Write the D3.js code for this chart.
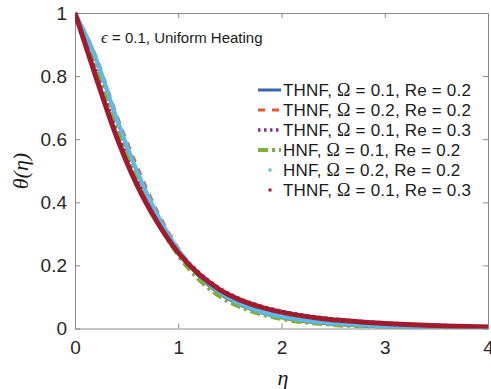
<!DOCTYPE html>
<html>
<head>
<meta charset="utf-8">
<script src="https://cdn.jsdelivr.net/npm/d3@7"></script>
<style>
  body { margin: 0; background: #fff; }
  svg { display: block; font-family: "Liberation Sans", Arial, sans-serif; }
  .tick text { fill: #262626; }
</style>
</head>
<body>
<svg id="chart" width="491" height="389"></svg>
<script>
// eta grid shared by all series
const eta = [0, 0.2, 0.4, 0.6, 0.8, 1.0, 1.2, 1.4, 1.6, 1.8, 2.0, 2.2, 2.4, 2.6, 2.8, 3.0, 3.2, 3.4, 3.6, 3.8, 4.0];

const thnfOm01Re02 = [1, 0.855, 0.665, 0.495, 0.355, 0.245, 0.165, 0.11, 0.074, 0.05, 0.034, 0.023, 0.016, 0.011, 0.0075, 0.005, 0.0035, 0.0025, 0.002, 0.0015, 0.001];
const thnfOm02Re02 = [1, 0.865, 0.68, 0.515, 0.37, 0.255, 0.17, 0.113, 0.076, 0.051, 0.035, 0.024, 0.017, 0.012, 0.008, 0.0055, 0.004, 0.003, 0.002, 0.0015, 0.001];
const thnfOm01Re03 = [1, 0.82, 0.63, 0.47, 0.345, 0.248, 0.178, 0.128, 0.094, 0.071, 0.055, 0.043, 0.034, 0.027, 0.022, 0.018, 0.014, 0.011, 0.009, 0.007, 0.006];
const hnfOm01Re02 = [1, 0.84, 0.65, 0.48, 0.34, 0.232, 0.155, 0.102, 0.068, 0.045, 0.03, 0.02, 0.014, 0.009, 0.006, 0.004, 0.003, 0.002, 0.0015, 0.001, 0.001];
const hnfOm02Re02 = [1, 0.86, 0.67, 0.5, 0.36, 0.25, 0.17, 0.115, 0.078, 0.053, 0.038, 0.027, 0.019, 0.014, 0.01, 0.007, 0.005, 0.004, 0.003, 0.0025, 0.002];
const thnfOm01Re03b = [1, 0.8, 0.61, 0.455, 0.335, 0.24, 0.172, 0.123, 0.09, 0.068, 0.052, 0.04, 0.031, 0.025, 0.02, 0.016, 0.013, 0.01, 0.008, 0.0065, 0.005];

const seriesNames = ["THNF", "THNF", "THNF", "HNF", "HNF", "THNF"];
const omegaValues = ["0.1", "0.2", "0.1", "0.1", "0.2", "0.1"];
const reValues = ["0.2", "0.2", "0.3", "0.2", "0.2", "0.3"];
const seriesValues = [thnfOm01Re02, thnfOm02Re02, thnfOm01Re03, hnfOm01Re02, hnfOm02Re02, thnfOm01Re03b];

const xTicks = [0, 1, 2, 3, 4];
const yTicks = [0, 0.2, 0.4, 0.6, 0.8, 1];

const styles = [
  { color: "#3c62ab", width: 3, dash: null, marker: false },
  { color: "#e2592a", width: 3, dash: "7,7", marker: false },
  { color: "#7b2f90", width: 3.5, dash: "2.5,3.5", marker: false },
  { color: "#7bb03a", width: 4, dash: "10,4,3,4", marker: false },
  { color: "#5bbbe8", width: 4, dash: null, marker: true },
  { color: "#a01b2e", width: 5, dash: null, marker: true },
];

const svg = d3.select("#chart");
const margin = { left: 75, right: 488, top: 13, bottom: 328.5 };

const x = d3.scaleLinear().domain([0, 4]).range([margin.left, margin.right]);
const y = d3.scaleLinear().domain([0, 1]).range([margin.bottom, margin.top]);

svg.append("defs").append("clipPath").attr("id", "plot-clip")
  .append("rect")
  .attr("x", margin.left).attr("y", margin.top - 3)
  .attr("width", margin.right - margin.left + 2)
  .attr("height", margin.bottom - margin.top + 3);

// axes (box with inward ticks)
const axisColor = "#8a8a8a";
function styleAxis(g, hideLabels) {
  g.select(".domain").attr("stroke", axisColor).attr("stroke-width", 1);
  g.selectAll(".tick line").attr("stroke", axisColor);
  if (hideLabels) g.selectAll(".tick text").remove();
}

svg.append("g").attr("transform", `translate(0,${margin.bottom})`)
  .call(d3.axisBottom(x).tickValues(xTicks).tickFormat(d3.format("d")).tickSizeInner(-5).tickSizeOuter(0).tickPadding(11))
  .call(g => styleAxis(g, false))
  .selectAll("text").attr("font-size", 19).attr("dy", "0.78em");

svg.append("g").attr("transform", `translate(0,${margin.top})`)
  .call(d3.axisTop(x).tickValues(xTicks).tickSizeInner(-5).tickSizeOuter(0))
  .call(g => styleAxis(g, true));

svg.append("g").attr("transform", `translate(${margin.left},0)`)
  .call(d3.axisLeft(y).tickValues(yTicks).tickFormat(d => d === 0 || d === 1 ? d3.format("d")(d) : d3.format(".1f")(d)).tickSizeInner(-5).tickSizeOuter(0).tickPadding(8))
  .call(g => styleAxis(g, false))
  .selectAll("text").attr("font-size", 19);

svg.append("g").attr("transform", `translate(${margin.right},0)`)
  .call(d3.axisRight(y).tickValues(yTicks).tickSizeInner(-5).tickSizeOuter(0))
  .call(g => styleAxis(g, true));

// curves
const line = d3.line()
  .x((d, i) => x(eta[i]))
  .y(d => y(d))
  .curve(d3.curveMonotoneX);

const plot = svg.append("g").attr("clip-path", "url(#plot-clip)");
seriesValues.forEach((vals, k) => {
  const s = styles[k];
  plot.append("path")
    .datum(vals)
    .attr("d", line)
    .attr("fill", "none")
    .attr("stroke", s.color)
    .attr("stroke-width", s.width)
    .attr("stroke-dasharray", s.dash)
    .attr("stroke-linejoin", "round");
});

// annotation
const note = svg.append("text").attr("x", 101).attr("y", 43).attr("font-size", 15).attr("fill", "#1a1a1a");
note.append("tspan").attr("font-family", "'Liberation Serif', serif").attr("font-style", "italic").attr("font-size", 17).text("ϵ");
note.append("tspan").text(" = 0.1, Uniform Heating");

// legend
const legend = svg.append("g");
seriesValues.forEach((vals, k) => {
  const s = styles[k];
  const ly = 90 + k * 20;
  if (s.marker) {
    legend.append("rect")
      .attr("x", 268.5).attr("y", ly - 1.5).attr("width", 3).attr("height", 3)
      .attr("fill", s.color);
  } else {
    legend.append("line")
      .attr("x1", 258).attr("x2", 281).attr("y1", ly).attr("y2", ly)
      .attr("stroke", s.color).attr("stroke-width", s.width)
      .attr("stroke-dasharray", s.dash);
  }
  const t = legend.append("text").attr("x", 283).attr("y", ly + 6)
    .attr("font-size", 17).attr("letter-spacing", 0.2).attr("fill", "#1a1a1a");
  t.append("tspan").text(`${seriesNames[k]},  `);
  t.append("tspan").attr("font-family", "'Liberation Serif', serif").attr("font-size", 18).text("Ω");
  t.append("tspan").text(` = ${omegaValues[k]}, Re = ${reValues[k]}`);
});

// axis labels
svg.append("text")
  .attr("x", 283).attr("y", 385)
  .attr("text-anchor", "middle")
  .attr("font-family", "'Liberation Serif', serif").attr("font-style", "italic")
  .attr("font-size", 22).attr("fill", "#1a1a1a")
  .text("η");

svg.append("text")
  .attr("transform", "translate(28,171) rotate(-90)")
  .attr("text-anchor", "middle")
  .attr("font-family", "'Liberation Serif', serif").attr("font-style", "italic")
  .attr("font-size", 22).attr("fill", "#1a1a1a")
  .text("θ(η)");
</script>
</body>
</html>
